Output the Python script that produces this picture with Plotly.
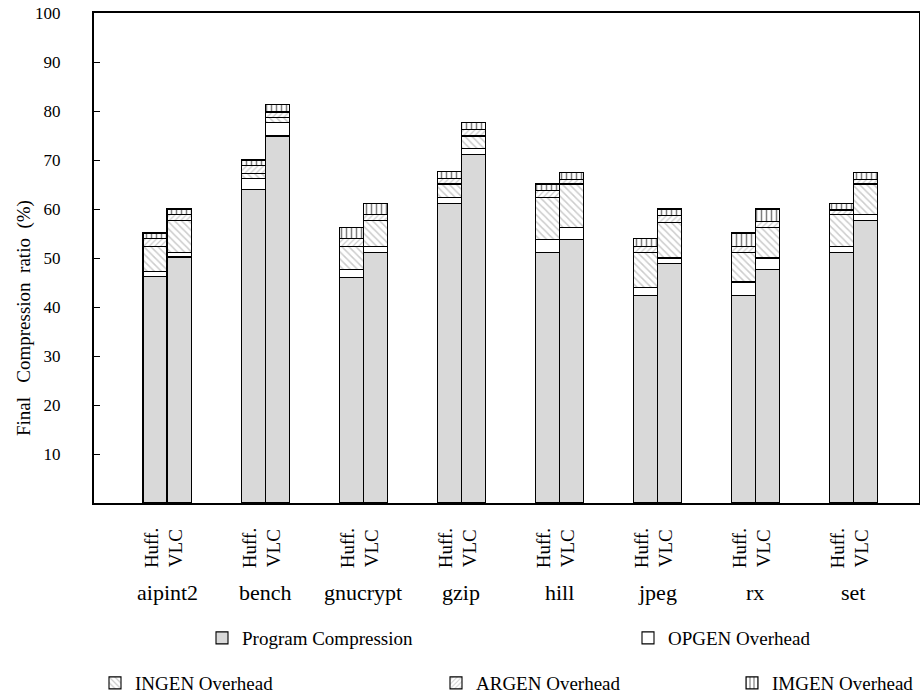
import plotly.graph_objects as go

benchmarks = ["aipint2", "bench", "gnucrypt", "gzip", "hill", "jpeg", "rx", "set"]
variants = ["Huff.", "VLC"]

# values per benchmark, [Huff., VLC] pairs (percent)
program = [46.3, 50.2, 63.9, 74.9, 46.1, 51.2, 61.2, 71.2, 51.2, 53.7, 42.4, 48.8, 42.4, 47.6, 51.2, 57.6]
opgen   = [1.0, 1.0, 2.4, 2.7, 1.5, 1.2, 1.2, 1.2, 2.5, 2.6, 1.5, 1.2, 2.7, 2.4, 1.2, 1.2]
ingen   = [5.1, 6.4, 1.0, 1.0, 4.8, 5.2, 2.7, 2.5, 8.7, 8.8, 7.3, 7.3, 6.1, 6.3, 6.4, 6.3]
argen   = [1.5, 1.2, 1.5, 1.2, 1.5, 1.2, 1.2, 1.4, 1.3, 1.0, 1.2, 1.3, 1.2, 1.2, 1.0, 1.0]
imgen   = [1.2, 1.2, 1.2, 1.6, 2.4, 2.4, 1.3, 1.3, 1.4, 1.4, 1.5, 1.4, 2.7, 2.5, 1.4, 1.4]

y_ticks = [10, 20, 30, 40, 50, 60, 70, 80, 90, 100]

FONT = "Liberation Serif"
W, H = 920, 700
# plot area in page pixels: left 94, right 919, top 13, bottom 503
ML, MR, MT, MB = 94, 1, 13, 197
BW = 0.245
OFF = 0.1225

xs = []
for i in range(len(benchmarks)):
    xs += [i - OFF, i + OFF]

series = [
    ("Program Compression", program, dict(color="#d9d9d9"), "legend"),
    ("OPGEN Overhead", opgen, dict(color="white"), "legend2"),
    ("INGEN Overhead", ingen, dict(color="white", pattern=dict(shape="\\", fgcolor="#9a9a9a", bgcolor="white", size=5, solidity=0.3)), "legend3"),
    ("ARGEN Overhead", argen, dict(color="white", pattern=dict(shape="/", fgcolor="#9a9a9a", bgcolor="white", size=4, solidity=0.3)), "legend4"),
    ("IMGEN Overhead", imgen, dict(color="white", pattern=dict(shape="|", fgcolor="black", bgcolor="white", size=5, solidity=0.3)), "legend5"),
]

fig = go.Figure()
for name, vals, mk, lg in series:
    mk = dict(mk)
    mk["line"] = dict(color="black", width=1.1)
    fig.add_trace(go.Bar(x=xs, y=vals, width=BW, name=name, marker=mk, legend=lg))

pw = W - ML - MR
ph = H - MT - MB

def px_x(xp):  # page px -> paper
    return (xp - ML) / pw

def px_y(yp):
    return (H - MB - yp) / ph

annotations = []
for i, b in enumerate(benchmarks):
    for j, v in enumerate(variants):
        annotations.append(dict(x=i + (-OFF if j == 0 else OFF) - 0.04, xref="x", y=px_y(548), yref="paper",
                                text=v, textangle=-90, showarrow=False,
                                font=dict(family=FONT, size=19, color="black"),
                                xanchor="center", yanchor="middle"))
    annotations.append(dict(x=i, xref="x", y=px_y(592), yref="paper", text=b, showarrow=False,
                            font=dict(family=FONT, size=22, color="black"),
                            xanchor="center", yanchor="middle"))

annotations.append(dict(x=px_x(24), xref="paper", y=px_y(318), yref="paper",
                        text="Final\u00a0\u00a0\u00a0Compression\u00a0\u00a0ratio\u00a0\u00a0(%)",
                        textangle=-90, showarrow=False,
                        font=dict(family=FONT, size=19, color="black"),
                        xanchor="center", yanchor="middle"))

leg_font = dict(family=FONT, size=19, color="black")
def leg(xtext, ycenter):
    return dict(x=px_x(xtext - 40), xanchor="left", y=px_y(ycenter), yanchor="middle",
                font=leg_font, bgcolor="rgba(0,0,0,0)", borderwidth=0)

fig.update_layout(
    width=W, height=H,
    margin=dict(l=ML, r=MR, t=MT, b=MB, autoexpand=False),
    paper_bgcolor="white", plot_bgcolor="white",
    barmode="stack",
    showlegend=True,
    legend=leg(242, 638),
    legend2=leg(668, 638),
    legend3=leg(135, 683),
    legend4=leg(476, 683),
    legend5=leg(772, 683),
    annotations=annotations,
    xaxis=dict(range=[-0.745, 7.67], showticklabels=False, ticks="", showgrid=False, zeroline=False,
               showline=True, linecolor="black", linewidth=2, mirror=True),
    yaxis=dict(range=[0, 100], tickvals=y_ticks, ticks="inside", ticklen=6, tickcolor="black",
               showgrid=False, zeroline=False, showline=True, linecolor="black", linewidth=2, mirror=True,
               tickfont=dict(family=FONT, size=17, color="black"), ticklabelstandoff=28,
               ticklabeloverflow="allow"),
)

# remove the browser's default 8px body margin so the 920x700 figure fills the window
fig.write_html("out.html", config={"displayModeBar": False},
               post_script="document.body.style.margin='0';")
